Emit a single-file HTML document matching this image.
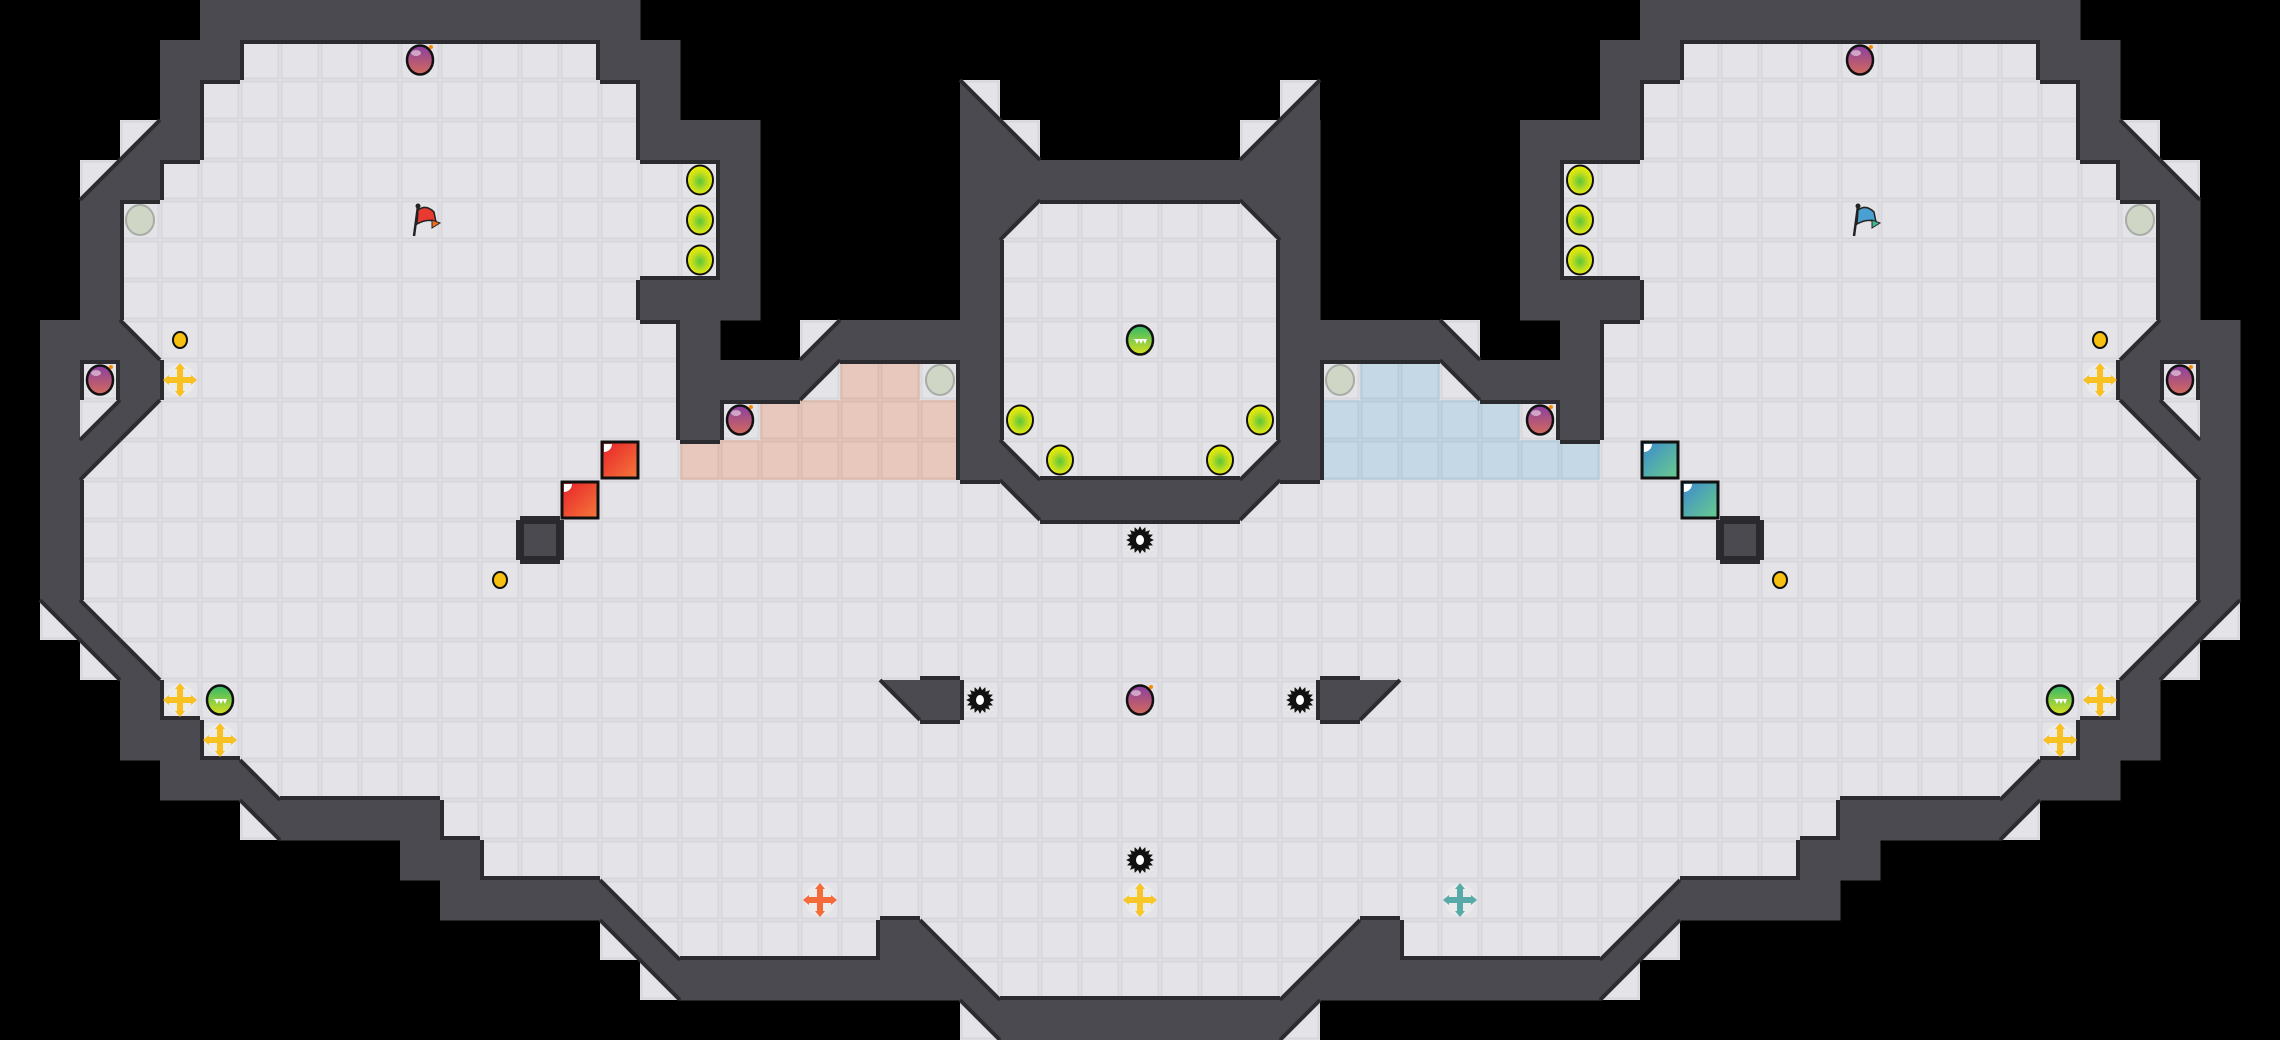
<!DOCTYPE html>
<html><head><meta charset="utf-8"><style>
html,body{margin:0;padding:0;background:#000;}
svg{display:block}
</style></head><body>
<svg id="m" xmlns="http://www.w3.org/2000/svg" width="2280" height="1040" viewBox="0 0 2280 1040">
<defs>
<radialGradient id="yb" cx="50%" cy="55%" r="55%"><stop offset="0" stop-color="#5cc63a"/><stop offset="0.6" stop-color="#c8e01a"/><stop offset="1" stop-color="#f0f000"/></radialGradient>
<linearGradient id="bm" x1="0" y1="0" x2="0" y2="1"><stop offset="0" stop-color="#8a3fa0"/><stop offset="1" stop-color="#d46a5a"/></linearGradient>
<linearGradient id="gb" x1="0" y1="0" x2="0" y2="1"><stop offset="0" stop-color="#2fb86a"/><stop offset="1" stop-color="#d8e020"/></linearGradient>
<linearGradient id="rb" x1="0" y1="0" x2="1" y2="1"><stop offset="0" stop-color="#e8202a"/><stop offset="1" stop-color="#f47a3a"/></linearGradient>
<linearGradient id="bb" x1="0" y1="0" x2="1" y2="1"><stop offset="0" stop-color="#3a8ad0"/><stop offset="1" stop-color="#6acc8a"/></linearGradient>
</defs>
<rect width="2280" height="1040" fill="#000"/>
<g id="tiles"></g>
<g id="edges"></g>
<g id="items"></g>
</svg>
<script>
var L=[
"     ###########             ",
"    ##.........##            ",
"    #...........#       1    ",
"   2#...........###     #1   ",
"  2#..............#     #####",
"  #...............#     #3...",
"  #...............#     #....",
"  #.............###     #....",
" ##1.............#  2####....",
" #.#.............###3rr.#....",
" #23.............#.rrrrr#....",
" #3..............rrrrrrr#1...",
" #.......................4###",
" #...........#...............",
" #...........................",
" 41..........................",
"  41.........................",
"   #..................4#.....",
"   ##........................",
"    ##1......................",
"      4####..................",
"          ##.................",
"           ####1.............",
"               41.....#1.....",
"                4#######1....",
"                        4####"];
var mir={'1':'2','2':'1','3':'4','4':'3','r':'b','b':'r','#':'#','.':'.',' ':' '};
var rows=L.map(function(s){var r=s;for(var c=27;c>=0;c--)r+=mir[s[c]];return r;});
var T=40,out=[],ed=[];
function floor(x,y,col){out.push('<rect x="'+x+'" y="'+y+'" width="40" height="40" fill="'+col+'"/><rect x="'+(x+1.5)+'" y="'+(y+1.5)+'" width="37" height="37" fill="none" stroke="'+(col=="#e4e4e8"?"#d6d6dc":"rgba(0,0,0,0.06)")+'" stroke-width="2"/>');}
var W="#4a4a50",E="#2c2c30";
function isW(r,c){if(r<0||r>25||c<0||c>56)return false;return rows[r][c]=='#';}
function ln(a,b,c,d){ed.push('<line x1="'+a+'" y1="'+b+'" x2="'+c+'" y2="'+d+'" stroke="'+E+'" stroke-width="4"/>');}
for(var r=0;r<26;r++)for(var c=0;c<57;c++){var ch=rows[r][c],x=c*T,y=r*T;
 if(ch==' ')continue;
 if(ch=='#'){out.push('<rect x="'+x+'" y="'+y+'" width="40.5" height="40.5" fill="'+W+'"/>');continue;}
 floor(x,y,ch=='r'?'#e8c8bc':ch=='b'?'#c4d8e6':'#e4e4e8');
 var p=null;
 if(ch=='1'){p=[x,y,x,y+40,x+40,y+40];ln(x,y,x+40,y+40);}
 if(ch=='2'){p=[x+40,y,x+40,y+40,x,y+40];ln(x+40,y,x,y+40);}
 if(ch=='3'){p=[x,y,x+40,y,x,y+40];ln(x+40,y,x,y+40);}
 if(ch=='4'){p=[x,y,x+40,y,x+40,y+40];ln(x,y,x+40,y+40);}
 if(p){out.push('<polygon points="'+p.join(',')+'" fill="'+W+'"/>');continue;}
 if(isW(r-1,c))ln(x,y+2,x+40,y+2);
 if(isW(r+1,c))ln(x,y+38,x+40,y+38);
 if(isW(r,c-1))ln(x+2,y,x+2,y+40);
 if(isW(r,c+1))ln(x+38,y,x+38,y+40);
}
document.getElementById('tiles').innerHTML=out.join('');
document.getElementById('edges').innerHTML=ed.join('');
var it=[];
function cx(c){return c*40+20}
function ball(c,r){it.push('<ellipse cx="'+cx(c)+'" cy="'+cx(r)+'" rx="13" ry="14.5" fill="url(#yb)" stroke="#111" stroke-width="2"/>');}
function bomb(c,r){var X=cx(c),Y=cx(r);it.push('<ellipse cx="'+X+'" cy="'+Y+'" rx="13" ry="14.5" fill="url(#bm)" stroke="#111" stroke-width="2.5"/><ellipse cx="'+(X-4)+'" cy="'+(Y-7)+'" rx="5" ry="3" fill="#fff" opacity="0.5"/><circle cx="'+(X+11)+'" cy="'+(Y-13)+'" r="2" fill="#f80"/>');}
function gray(c,r){it.push('<ellipse cx="'+cx(c)+'" cy="'+cx(r)+'" rx="14" ry="15" fill="#cfd6c6" stroke="#a8aca6" stroke-width="2"/>');}
function coin(c,r){it.push('<ellipse cx="'+cx(c)+'" cy="'+cx(r)+'" rx="7" ry="8" fill="#f5c010" stroke="#111" stroke-width="2"/>');}
function green(c,r){var X=cx(c),Y=cx(r);it.push('<ellipse cx="'+X+'" cy="'+Y+'" rx="13" ry="14.5" fill="url(#gb)" stroke="#111" stroke-width="2.5"/><path d="M'+(X-7)+','+(Y-1)+' h14 l-2,5 l-2,-4 l-2,4 l-2,-4 l-2,4 l-2,-4z" fill="#fff"/>');}
function plus(c,r,col){var X=cx(c),Y=cx(r);it.push('<ellipse cx="'+X+'" cy="'+Y+'" rx="15" ry="16" fill="#eee" opacity="0.7"/><path d="M'+(X-3)+','+(Y-12)+' h6 v9 h9 v6 h-9 v9 h-6 v-9 h-9 v-6 h9z" fill="'+col+'"/><path d="M'+X+','+(Y-17)+' l5,6 h-10z M'+X+','+(Y+17)+' l5,-6 h-10z M'+(X-17)+','+Y+' l6,5 v-10z M'+(X+17)+','+Y+' l-6,5 v-10z" fill="'+col+'"/>');}
function spike(c,r){var X=cx(c),Y=cx(r),pts=[];for(var i=0;i<32;i++){var a=i*Math.PI/16,rr=i%2?10:14;pts.push((X+rr*Math.cos(a)).toFixed(1)+','+(Y+rr*Math.sin(a)).toFixed(1));}it.push('<polygon points="'+pts.join(' ')+'" fill="#111"/><ellipse cx="'+X+'" cy="'+Y+'" rx="4" ry="5" fill="#fff"/>');}
function box(c,r,g){var x=c*40+2,y=r*40+2;it.push('<rect x="'+x+'" y="'+y+'" width="36" height="36" fill="url(#'+g+')" stroke="#111" stroke-width="3"/><path d="M'+(x+2)+','+(y+2)+' h8 a8,8 0 0 1 -8,8z" fill="#fff"/>');}
function flag(c,r,col,tip){var X=c*40,Y=r*40;it.push('<line x1="'+(X+14)+'" y1="'+(Y+36)+'" x2="'+(X+18)+'" y2="'+(Y+6)+'" stroke="#222" stroke-width="2.5"/><circle cx="'+(X+18)+'" cy="'+(Y+6)+'" r="2.5" fill="#222"/><path d="M'+(X+18)+','+(Y+10)+' q8,-6 16,2 l2,10 q-8,-4 -19,2z" fill="'+col+'" stroke="#222" stroke-width="1.5"/><path d="M'+(X+32)+','+(Y+20)+' l8,3 l-8,5z" fill="'+tip+'" stroke="#222" stroke-width="1"/>');}
[[10,1],[2,9],[18,10]].forEach(function(p){bomb(p[0],p[1]);bomb(56-p[0],p[1]);});
bomb(28,17);
[[17,4],[17,5],[17,6]].forEach(function(p){ball(p[0],p[1]);ball(56-p[0],p[1]);});
ball(25,10);ball(31,10);ball(26,11);ball(30,11);
[[3,5],[23,9]].forEach(function(p){gray(p[0],p[1]);gray(56-p[0],p[1]);});
[[4,8],[12,14]].forEach(function(p){coin(p[0],p[1]);coin(56-p[0],p[1]);});
[[4,9],[4,17],[5,18]].forEach(function(p){plus(p[0],p[1],'#f8c020');plus(56-p[0],p[1],'#f8c020');});
plus(28,22,'#f8c828');plus(20,22,'#f46a3a');plus(36,22,'#58aaa8');
green(5,17);green(51,17);green(28,8);
box(15,11,'rb');box(14,12,'rb');box(41,11,'bb');box(42,12,'bb');
it.push('<rect x="522" y="522" width="36" height="36" fill="#4a4a50" stroke="#2a2a2e" stroke-width="4"/>');
it.push('<rect x="1722" y="522" width="36" height="36" fill="#4a4a50" stroke="#2a2a2e" stroke-width="4"/>');
spike(28,13);spike(24,17);spike(32,17);spike(28,21);
flag(10,5,'#e83a30','#f07020');flag(46,5,'#4aa0d0','#40b890');
document.getElementById('items').innerHTML=it.join('');
</script>
</body></html>
